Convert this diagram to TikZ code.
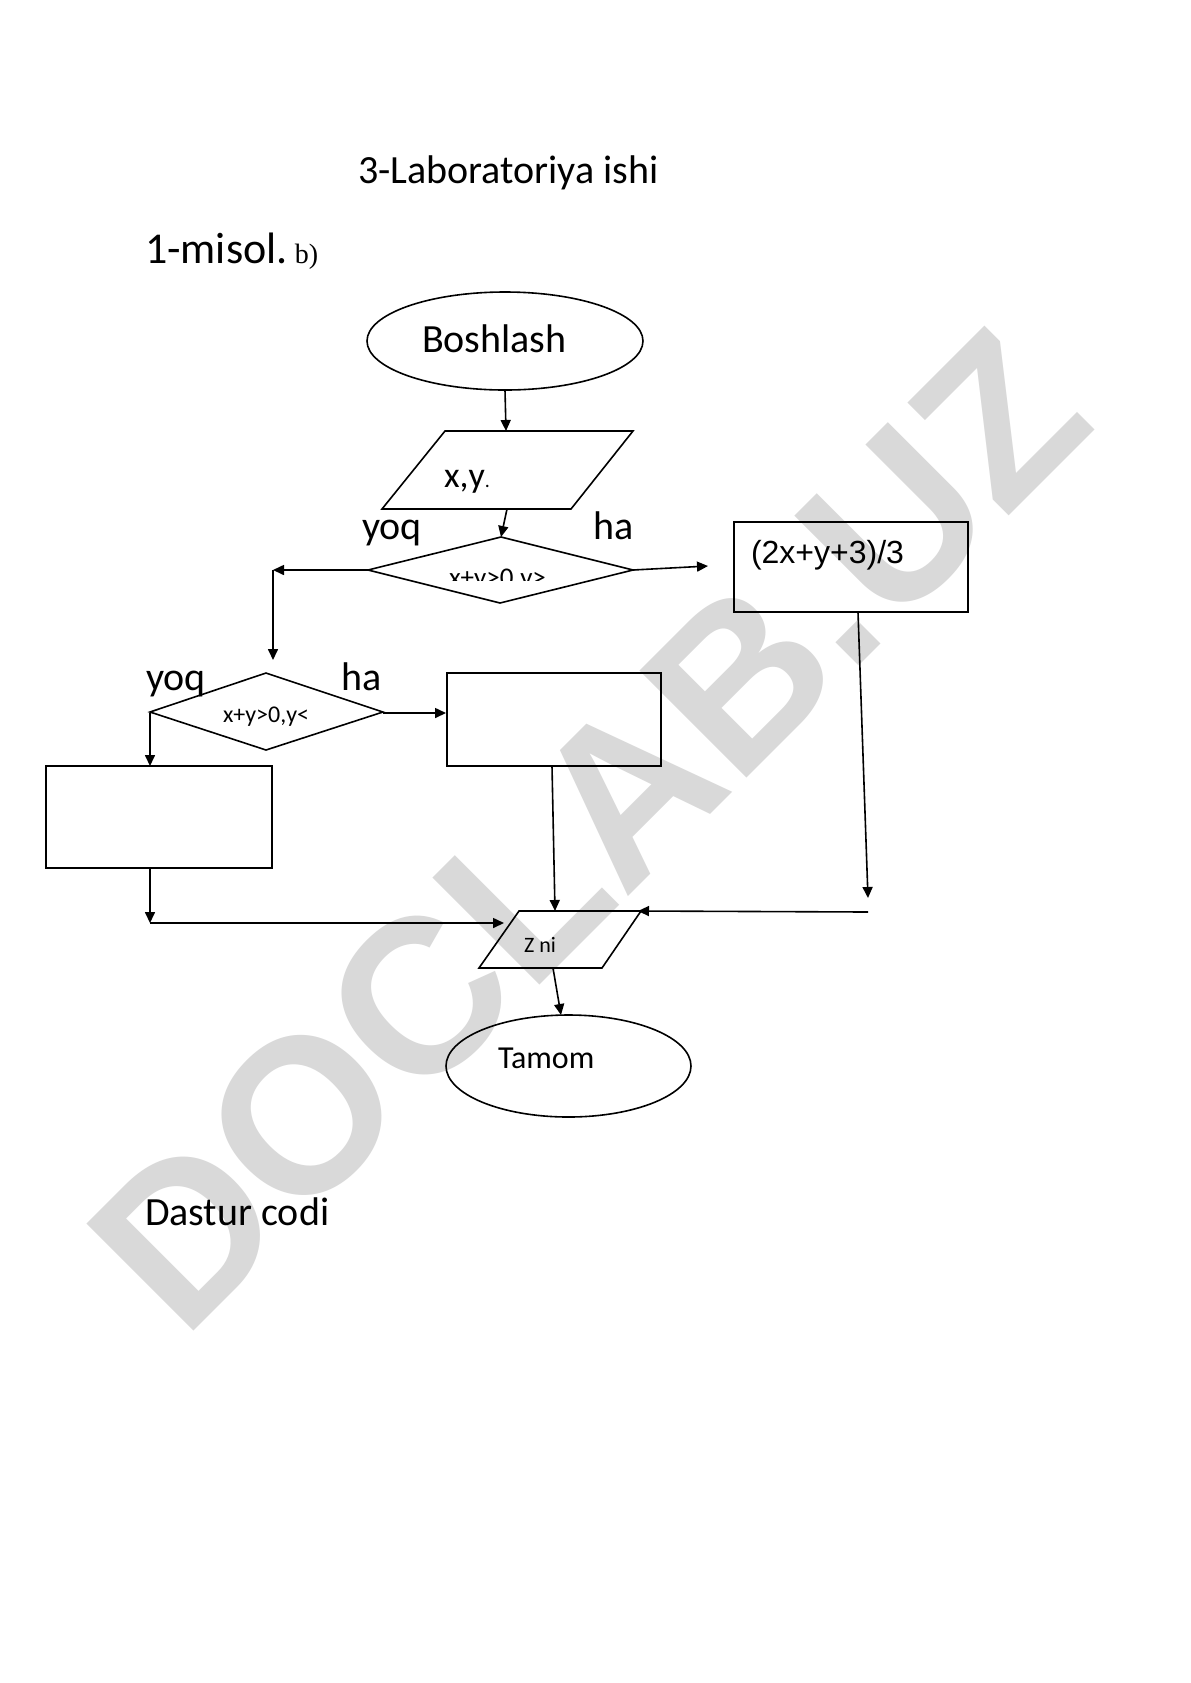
\documentclass[tikz,border=0pt]{standalone}
\usepackage{fontspec}
\setmainfont{Carlito}
\newfontfamily\arialf{Liberation Sans}
\newfontfamily\timesf{Liberation Serif}
\usetikzlibrary{arrows.meta,shapes.geometric}
\definecolor{wm}{RGB}{217,217,217}
\tikzset{
  ln/.style={line width=0.8pt,black},
  arr/.style={ln,-{Triangle[length=5.5pt,width=5pt]}},
  txt/.style={anchor=base west,inner sep=0pt,outer sep=0pt},
  term/.style={ellipse,ln,draw,inner sep=0pt},
}
\begin{document}
\begin{tikzpicture}[x=0.5pt,y=-0.5pt]
\useasboundingbox[fill=white] (0,0) rectangle (1190,1683);
% watermark
\node[inner sep=0pt,rotate=45,text=wm,font=\fontspec{Liberation Sans Bold}\fontsize{110}{110}\selectfont] (wmark) at (588,830) {DOCLAB.UZ};
% titles
\node[txt,font=\fontsize{20}{24}\selectfont] (title) at (358,183) {3-Laboratoriya ishi};
\node[txt,font=\fontsize{22}{26}\selectfont] (misol) at (145,263) {1-misol.\,{\timesf\fontsize{14}{16}\selectfont b)}};
\node[txt,font=\fontsize{20}{24}\selectfont] (dastur) at (145,1225) {Dastur codi};
% shapes
\node[term,minimum width=138pt,minimum height=49pt] (start) at (505,341) {};
\node[txt,font=\fontsize{20}{24}\selectfont] (starttxt) at (422,352) {Boshlash};
\draw[ln] (445,431) -- (633,431) -- (571,509) -- (382,509) -- cycle;
\node[txt,font=\fontsize{18}{22}\selectfont] (intxt) at (444,487) {x,y{\fontsize{10}{12}\selectfont .}};
\draw[ln] (501,537) -- (633,570) -- (500,603) -- (368,570) -- cycle;
\begin{scope}
  \clip (440,555) rectangle (560,580);
  \node[txt,font=\fontsize{13.5}{16}\selectfont] (cond1) at (449,586) {x+y>0,y>};
\end{scope}
\node[txt,font=\fontsize{20}{24}\selectfont] (yoq1) at (362,539) {yoq};
\node[txt,font=\fontsize{20}{24}\selectfont] (ha1) at (593,539) {ha};
\draw[ln] (734,522) rectangle (968,612);
\node[txt,font=\arialf\fontsize{16}{19}\selectfont] (formula) at (751,563) {(2x+y+3)/3};
\draw[ln] (266,673) -- (383,712) -- (266,750) -- (150,712) -- cycle;
\node[txt,font=\fontsize{12}{14}\selectfont] (cond2) at (223,722) {x+y>0,y<};
\node[txt,font=\fontsize{20}{24}\selectfont] (yoq2) at (146,690) {yoq};
\node[txt,font=\fontsize{20}{24}\selectfont] (ha2) at (341,690) {ha};
\draw[ln] (447,673) rectangle (661,766);
\draw[ln] (46,766) rectangle (272,868);
\draw[ln] (519,911) -- (641,911) -- (602,968) -- (479,968) -- cycle;
\node[txt,font=\fontsize{11}{13}\selectfont] (outtxt) at (524,952) {Z ni};
\node[term,minimum width=122.5pt,minimum height=51pt] (stop) at (568.5,1066) {};
\node[txt,font=\fontsize{16}{19}\selectfont] (stoptxt) at (498,1068) {Tamom};
% connector points
\coordinate (c1a) at (505,390); \coordinate (c1b) at (506,431);
\coordinate (c2a) at (507,509); \coordinate (c2b) at (501,537);
\coordinate (c3a) at (368,570); \coordinate (c3b) at (273,570);
\coordinate (c4b) at (273,660);
\coordinate (c5a) at (633,570); \coordinate (c5b) at (708,566);
\coordinate (c6a) at (383,713); \coordinate (c6b) at (446,713);
\coordinate (c7a) at (150,713); \coordinate (c7b) at (150,766);
\coordinate (c8a) at (150,868); \coordinate (c8b) at (150,923);
\coordinate (c9b) at (504,923);
\coordinate (c10a) at (552,766); \coordinate (c10b) at (555,911);
\coordinate (c11a) at (858,612); \coordinate (c11b) at (868,898);
\coordinate (c12a) at (868,912); \coordinate (c12b) at (638,911);
\coordinate (c13a) at (553,968); \coordinate (c13b) at (561,1015);
% connectors
\draw[arr] (c1a) -- (c1b);
\draw[arr] (c2a) -- (c2b);
\draw[arr] (c3a) -- (c3b);
\draw[arr] (c3b) -- (c4b);
\draw[arr] (c5a) -- (c5b);
\draw[arr] (c6a) -- (c6b);
\draw[arr] (c7a) -- (c7b);
\draw[arr] (c8a) -- (c8b);
\draw[arr] (c8b) -- (c9b);
\draw[arr] (c10a) -- (c10b);
\draw[arr] (c11a) -- (c11b);
\draw[arr] (c12a) -- (c12b);
\draw[arr] (c13a) -- (c13b);
\end{tikzpicture}
\end{document}
